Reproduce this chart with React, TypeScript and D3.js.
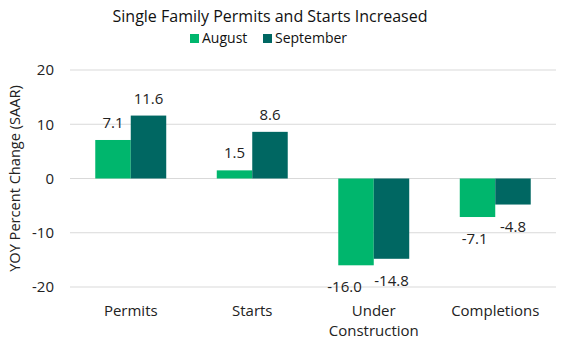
import React from 'react';
import * as d3 from 'd3';

const categories = ['Permits', 'Starts', 'Under Construction', 'Completions'];
const categoryLines = [['Permits'], ['Starts'], ['Under', 'Construction'], ['Completions']];
const seriesNames = ['August', 'September'];
const august = [7.1, 1.5, -16.0, -7.1];
const september = [11.6, 8.6, -14.8, -4.8];
const yTicks = [-20, -10, 0, 10, 20];
const colors = ['#00B66D', '#006762'];

const width = 581;
const height = 350;
const margin = { top: 70, right: 25, bottom: 63, left: 70 };
const font = '"Open Sans", "Noto Sans", sans-serif';

// rough width of a label, used to push apart labels that would touch
const labelWidth = (s: string) => s.length * 8.6;

const App = () => {
    const x = d3.scaleBand().domain(categories).range([margin.left, width - margin.right]).paddingInner(0).paddingOuter(0);
    const inner = d3.scaleBand().domain(seriesNames).range([0, x.bandwidth()]).paddingInner(0).paddingOuter(0.712);
    const y = d3.scaleLinear().domain([-20, 20]).range([height - margin.bottom, margin.top]);

    const series = [august, september];

    return (
        <svg width={width} height={height} style={{ display: 'block', position: 'absolute', left: 0, top: 0 }} fontFamily={font}>
            <rect width={width} height={height} fill="#fff" />
            <text x={270} y={22} textAnchor="middle" fontSize={16} fill="#111">
                Single Family Permits and Starts Increased
            </text>
            {/* legend */}
            <g fontSize={14} fill="#111">
                <rect x={190} y={34} width={9} height={9} fill={colors[0]} />
                <text x={202} y={43}>August</text>
                <rect x={263} y={34} width={9} height={9} fill={colors[1]} />
                <text x={275} y={43}>September</text>
            </g>
            {/* grid */}
            {yTicks.map(t => (
                <g key={t}>
                    <line x1={margin.left} x2={width - margin.right} y1={y(t)} y2={y(t)} stroke="#d9d9d9" strokeWidth={1} />
                    <text x={54} y={y(t)} dy="0.35em" textAnchor="end" fontSize={15} fill="#222">{t}</text>
                </g>
            ))}
            <text transform={`translate(20,${y(0)}) rotate(-90)`} textAnchor="middle" fontSize={14.6} fill="#222">
                YOY Percent Change (SAAR)
            </text>
            {/* bars */}
            {categories.map((c, i) => {
                const bw = inner.bandwidth();
                const a = august[i].toFixed(1);
                const b = september[i].toFixed(1);
                const sameSide = (august[i] >= 0) === (september[i] >= 0);
                const overlap = sameSide ? Math.max(0, (labelWidth(a) + labelWidth(b)) / 2 - bw + 4) : 0;
                return (
                    <g key={c}>
                        {series.map((vals, s) => {
                            const v = vals[i];
                            const bx = (x(c) as number) + (inner(seriesNames[s]) as number);
                            const top = y(Math.max(0, v));
                            const h = Math.abs(y(v) - y(0));
                            const ly = v >= 0 ? y(v) - 12 : y(v) + 27;
                            const dx = s === 0 ? -overlap : 0;
                            return (
                                <g key={s}>
                                    <rect x={bx} y={top} width={bw} height={h} fill={colors[s]} />
                                    <text x={bx + bw / 2 + dx} y={ly} textAnchor="middle" fontSize={15} fill="#222">
                                        {v.toFixed(1)}
                                    </text>
                                </g>
                            );
                        })}
                        {categoryLines[i].map((line, k) => (
                            <text key={k} x={(x(c) as number) + x.bandwidth() / 2} y={height - margin.bottom + 29 + k * 20} textAnchor="middle" fontSize={15} fill="#222">
                                {line}
                            </text>
                        ))}
                    </g>
                );
            })}
        </svg>
    );
};

export default App;
